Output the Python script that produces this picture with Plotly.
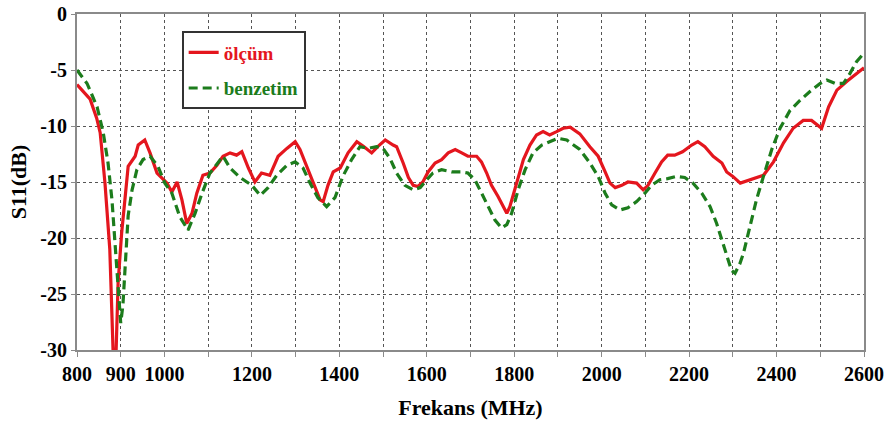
import plotly.graph_objects as go

# ölçüm (measured)
freq_olcum = [800, 815, 830, 845, 853, 864, 875, 880, 884, 888, 894, 902, 910, 917, 933, 940, 955, 967, 983,
              1006, 1017, 1029, 1040, 1051, 1063, 1074, 1088, 1104, 1120, 1134, 1150, 1165, 1177, 1192, 1207,
              1222, 1241, 1260, 1280, 1299, 1310, 1325, 1344, 1356, 1363, 1374, 1386, 1402, 1420, 1440, 1455,
              1474, 1489, 1505, 1523, 1531, 1546, 1558, 1569, 1580, 1591, 1603, 1619, 1634, 1649, 1665, 1680,
              1694, 1714, 1725, 1737, 1748, 1763, 1775, 1783, 1790, 1806, 1821, 1836, 1851, 1866, 1881, 1897,
              1912, 1928, 1950, 1973, 1992, 2008, 2019, 2031, 2046, 2060, 2080, 2095, 2106, 2122, 2137, 2151,
              2167, 2185, 2206, 2220, 2236, 2255, 2275, 2286, 2300, 2317, 2339, 2370, 2393, 2416, 2438, 2461,
              2480, 2503, 2519, 2538, 2561, 2583, 2600]
s11_olcum = [-6.3, -6.9, -7.6, -9.3, -10.6, -15.1, -21, -27, -32, -32, -24, -19.6, -16, -13.6, -12.7, -11.7, -11.25,
             -12.4, -14.2, -15.1, -15.9, -15, -16.6, -18.7, -17.8, -16, -14.4, -14.2, -13.5, -12.7, -12.4, -12.6,
             -12.3, -13.75, -15, -14.2, -14.4, -12.7, -12, -11.4, -12.1, -13.6, -15.4, -16.6, -16.75, -15.3, -14.1,
             -13.75, -12.4, -11.4, -11.8, -12.4, -11.8, -11.25, -11.7, -11.85, -13.3, -14.6, -15.3, -15.4, -15,
             -14.1, -13.3, -13, -12.4, -12.1, -12.4, -12.7, -12.7, -13.2, -14.2, -15.3, -16.3, -17.2, -17.8, -17.2,
             -15.1, -13, -11.7, -10.8, -10.5, -10.8, -10.5, -10.2, -10.1, -10.7, -11.85, -12.7, -14.1, -15.1,
             -15.5, -15.3, -15, -15.1, -15.7, -15.3, -14.2, -13.2, -12.6, -12.6, -12.3, -11.7, -11.4, -11.85,
             -12.7, -13.3, -14.1, -14.5, -15.1, -14.8, -14.4, -13.2, -11.5, -10.2, -9.5, -9.5, -10.2, -8.3, -6.8,
             -6.0, -5.3, -4.8]

# benzetim (simulated)
freq_benzetim = [800, 823, 846, 860, 871, 880, 887, 894, 900, 905, 910, 917, 926, 937, 951, 967, 985, 1001, 1017,
                 1035, 1054, 1070, 1086, 1104, 1122, 1134, 1150, 1173, 1200, 1219, 1237, 1257, 1280, 1299, 1317,
                 1333, 1351, 1371, 1390, 1408, 1428, 1447, 1466, 1485, 1500, 1516, 1531, 1550, 1569, 1585, 1600,
                 1614, 1634, 1657, 1680, 1694, 1710, 1725, 1740, 1756, 1771, 1783, 1794, 1809, 1825, 1843, 1863,
                 1882, 1900, 1920, 1950, 1973, 1992, 2008, 2023, 2042, 2060, 2080, 2099, 2114, 2133, 2151, 2171,
                 2190, 2209, 2229, 2248, 2263, 2275, 2286, 2297, 2305, 2316, 2324, 2339, 2354, 2370, 2389, 2408,
                 2431, 2454, 2477, 2500, 2515, 2534, 2553, 2568, 2583, 2600]
s11_benzetim = [-5.0, -6.2, -8.3, -10.6, -13.3, -16.6, -20.5, -24, -27.6, -26, -22.6, -18, -15.7, -13.9, -13, -12.7,
                -13.6, -15.1, -16, -18.1, -19.3, -17.8, -16, -14.2, -13.3, -12.7, -13.75, -14.6, -15.3, -16.2, -15.5,
                -14.4, -13.5, -13.2, -13.75, -15.1, -16.4, -17.2, -16.4, -14.5, -13, -11.85, -12, -11.85, -12, -12.9,
                -14.2, -15.3, -15.7, -15.5, -14.8, -14.2, -13.9, -14.1, -14.1, -14.2, -14.8, -16, -17.2, -18.4,
                -19.1, -18.8, -17.8, -15.7, -13.9, -12.4, -11.7, -11.4, -11.1, -11.25, -12.1, -13.3, -14.5, -16,
                -17.05, -17.5, -17.3, -16.75, -16, -15.3, -14.8, -14.7, -14.5, -14.6, -15.1, -16, -17.2, -18.7,
                -20.2, -21.7, -22.9, -23.15, -22.3, -21.4, -19, -16.6, -14.5, -12.1, -10.2, -8.6, -7.7, -6.9, -6.2,
                -5.9, -6.2, -6.2, -5.3, -4.25, -3.5]

x_tickvals = list(range(800, 2601, 100))
x_ticktext = ["800", "900", "1000", "", "1200", "", "1400", "", "1600", "", "1800", "", "2000", "",
              "2200", "", "2400", "", "2600"]
y_tickvals = [0, -5, -10, -15, -20, -25, -30]
y_ticktext = ["0", "-5", "-10", "-15", "-20", "-25", "-30"]

RED = "#e4161e"
GREEN = "#1c7c1c"
FONT = "Liberation Serif"

fig = go.Figure()
fig.add_trace(go.Scatter(x=freq_olcum, y=s11_olcum, mode="lines",
                         name="<b><span style='color:%s'>ölçüm</span></b>" % RED,
                         legendgroup="a",
                         line=dict(color=RED, width=3.2)))
fig.add_trace(go.Scatter(x=freq_benzetim, y=s11_benzetim, mode="lines",
                         name="<b><span style='color:%s'>benzetim</span></b>" % GREEN,
                         legendgroup="b",
                         line=dict(color=GREEN, width=3.2, dash="9px,5px")))

fig.update_layout(
    width=887, height=428,
    margin=dict(l=77, r=23, t=14, b=78),
    paper_bgcolor="white", plot_bgcolor="white",
    font=dict(family=FONT, size=20, color="black"),
    showlegend=True,
    legend=dict(x=0.133, y=0.948, xanchor="left", yanchor="top",
                bgcolor="white", bordercolor="#333333", borderwidth=2,
                font=dict(family=FONT, size=19),
                tracegroupgap=8, itemwidth=30),
    xaxis=dict(range=[800, 2600], tickvals=x_tickvals, ticktext=x_ticktext, automargin=False,
               ticklabeloverflow="allow",
               showgrid=True, gridcolor="#555555", gridwidth=1, griddash="dot",
               showline=True, linecolor="#8a8a8a", linewidth=2, mirror=True,
               ticks="outside", ticklen=5, tickcolor="#8a8a8a", tickwidth=1,
               tickfont=dict(family=FONT, size=20, color="black"),
               title=dict(text="<b>Frekans (MHz)</b>", font=dict(family=FONT, size=22), standoff=16),
               zeroline=False),
    yaxis=dict(range=[-30, 0], tickvals=y_tickvals, ticktext=y_ticktext, automargin=False,
               ticklabeloverflow="allow",
               showgrid=True, gridcolor="#555555", gridwidth=1, griddash="dot",
               showline=True, linecolor="#8a8a8a", linewidth=2, mirror=True,
               ticks="outside", ticklen=4, tickcolor="#8a8a8a", tickwidth=1,
               tickfont=dict(family=FONT, size=20, color="black"),
               title=dict(text="<b>S11(dB)</b>", font=dict(family=FONT, size=22), standoff=8),
               zeroline=False),
)
fig.update_xaxes(tickfont=dict(weight="bold"))
fig.update_yaxes(tickfont=dict(weight="bold"))

# remove the default 8px page margin so the figure fills the window exactly
fig.write_html("out.html", config={"displayModeBar": False},
               post_script="document.body.style.margin='0px';")
